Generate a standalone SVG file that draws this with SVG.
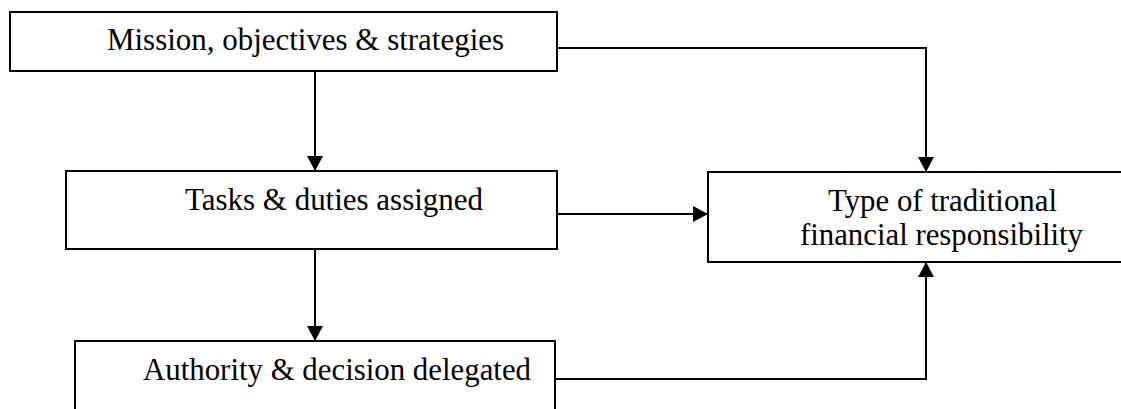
<svg xmlns="http://www.w3.org/2000/svg" width="1121" height="409" viewBox="0 0 1121 409">
<style>
.box{fill:#fff;stroke:#000;stroke-width:2}
.lbl{font-family:"Liberation Serif","Times New Roman",serif;font-size:32.5px;fill:#000}
.conn{fill:none;stroke:#000;stroke-width:2}
</style>
<defs>
<marker id="arr" markerUnits="userSpaceOnUse" markerWidth="15" markerHeight="16" refX="15" refY="8" orient="auto">
<path d="M0,0 L15,8 L0,16 z" fill="#000"/>
</marker>
</defs>
<rect width="1121" height="409" fill="#fff"/>
<g id="mission">
<rect class="box" x="10" y="12" width="547" height="59"/>
<text class="lbl" x="107" y="50" textLength="397" lengthAdjust="spacingAndGlyphs">Mission, objectives &amp; strategies</text>
</g>
<g id="tasks">
<rect class="box" x="66" y="171" width="491" height="78"/>
<text class="lbl" x="185" y="210" textLength="298" lengthAdjust="spacingAndGlyphs">Tasks &amp; duties assigned</text>
</g>
<g id="authority">
<rect class="box" x="75" y="341" width="480" height="90"/>
<text class="lbl" x="143" y="380" textLength="388" lengthAdjust="spacingAndGlyphs">Authority &amp; decision delegated</text>
</g>
<g id="type">
<rect class="box" x="708" y="172" width="430" height="90"/>
<text class="lbl" x="828" y="210.5" textLength="229" lengthAdjust="spacingAndGlyphs">Type of traditional</text>
<text class="lbl" x="800" y="245" textLength="283" lengthAdjust="spacingAndGlyphs">financial responsibility</text>
</g>
<g id="connectors">
<path class="conn" d="M315 71 V171" marker-end="url(#arr)"/>
<path class="conn" d="M557 48 H926 V172" marker-end="url(#arr)"/>
<path class="conn" d="M557 214 H708" marker-end="url(#arr)"/>
<path class="conn" d="M315 249 V341" marker-end="url(#arr)"/>
<path class="conn" d="M555 379 H926 V262" marker-end="url(#arr)"/>
</g>
</svg>
